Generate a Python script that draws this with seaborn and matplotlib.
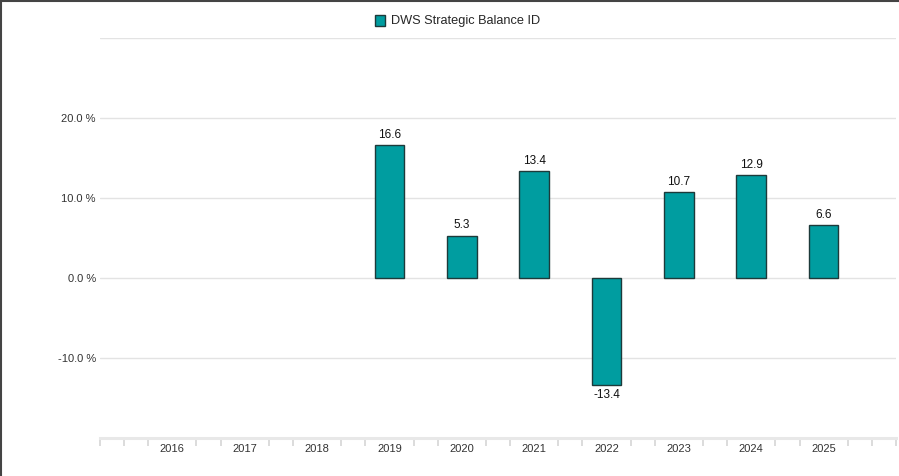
import numpy as np
import pandas as pd
import matplotlib
matplotlib.use("Agg")
import matplotlib.pyplot as plt
import seaborn as sns
from matplotlib.lines import Line2D
from matplotlib.patches import Patch

years = ["2016", "2017", "2018", "2019", "2020", "2021", "2022", "2023", "2024", "2025"]
returns = [np.nan, np.nan, np.nan, 16.6, 5.3, 13.4, -13.4, 10.7, 12.9, 6.6]
series_name = "DWS Strategic Balance ID"
ytick_values = [-10, 0, 10, 20]
ytick_labels = ["-10.0 %", "0.0 %", "10.0 %", "20.0 %"]

df = pd.DataFrame({"year": years, "ret": returns})

sns.set_theme(style="white")
plt.rcParams["font.family"] = ["Liberation Sans", "DejaVu Sans"]

fig = plt.figure(figsize=(8.99, 4.76), dpi=100)
ax = fig.add_axes([100/899, 1-438/476, 796/899, 400/476])

teal = "#009DA0"
edge = "#1d3a3a"
sns.barplot(data=df, x="year", y="ret", order=years, color=teal, width=0.41,
            edgecolor=edge, linewidth=1.0, saturation=1, ax=ax, zorder=3, errorbar=None)

ax.set_xlim(-1, 10)
ax.set_ylim(-20, 30)

# grid lines
for gy in [-10, 0, 10, 20, 30]:
    ax.axhline(gy, color="#e3e3e3", lw=1.0, zorder=1)

ax.set_yticks(ytick_values)
ax.set_yticklabels(ytick_labels)
ax.tick_params(axis="y", length=0, pad=3, labelsize=8, labelcolor="#333333")
ax.set_xticks(range(len(years)))
ax.set_xticklabels(years)
ax.tick_params(axis="x", which="major", bottom=True, length=0, pad=4, labelsize=8, labelcolor="#333333")
minor = [-1 + k/3 for k in range(34) if not (abs((-1 + k/3) - round(-1 + k/3)) < 1e-6 and 0 <= round(-1 + k/3) <= 9)]
ax.set_xticks(minor, minor=True)
ax.tick_params(axis="x", which="minor", bottom=True, length=6, width=1.3, color="#d9d9d9", direction="out")
ax.set_xlabel("")
ax.set_ylabel("")

for s in ["top", "right", "left"]:
    ax.spines[s].set_visible(False)
ax.spines["bottom"].set_color("#e8e8e8")
ax.spines["bottom"].set_linewidth(2.2)
ax.spines["bottom"].set_zorder(2)

# value labels
for i, v in enumerate(returns):
    if np.isnan(v):
        continue
    if v >= 0:
        ax.annotate(f"{v:.1f}", (i, v), xytext=(0, 3), textcoords="offset points",
                    ha="center", va="bottom", fontsize=8.5, color="#111111")
    else:
        ax.annotate(f"{v:.1f}", (i, v), xytext=(0, -3), textcoords="offset points",
                    ha="center", va="top", fontsize=8.5, color="#111111")

handle = Patch(facecolor=teal, edgecolor=edge, linewidth=1.0)
fig.legend([handle], [series_name], loc="center", bbox_to_anchor=(458/899, 1-21/476),
           frameon=False, fontsize=9.2, handlelength=0.75, handleheight=0.95, handletextpad=0.5)

# frame borders (left and top)
fig.add_artist(Line2D([0.5/899, 0.5/899], [0, 1], transform=fig.transFigure, color="#444444", lw=1.5))
fig.add_artist(Line2D([0, 1], [1-0.5/476, 1-0.5/476], transform=fig.transFigure, color="#444444", lw=1.5))

fig.savefig("out.png", dpi=100)
